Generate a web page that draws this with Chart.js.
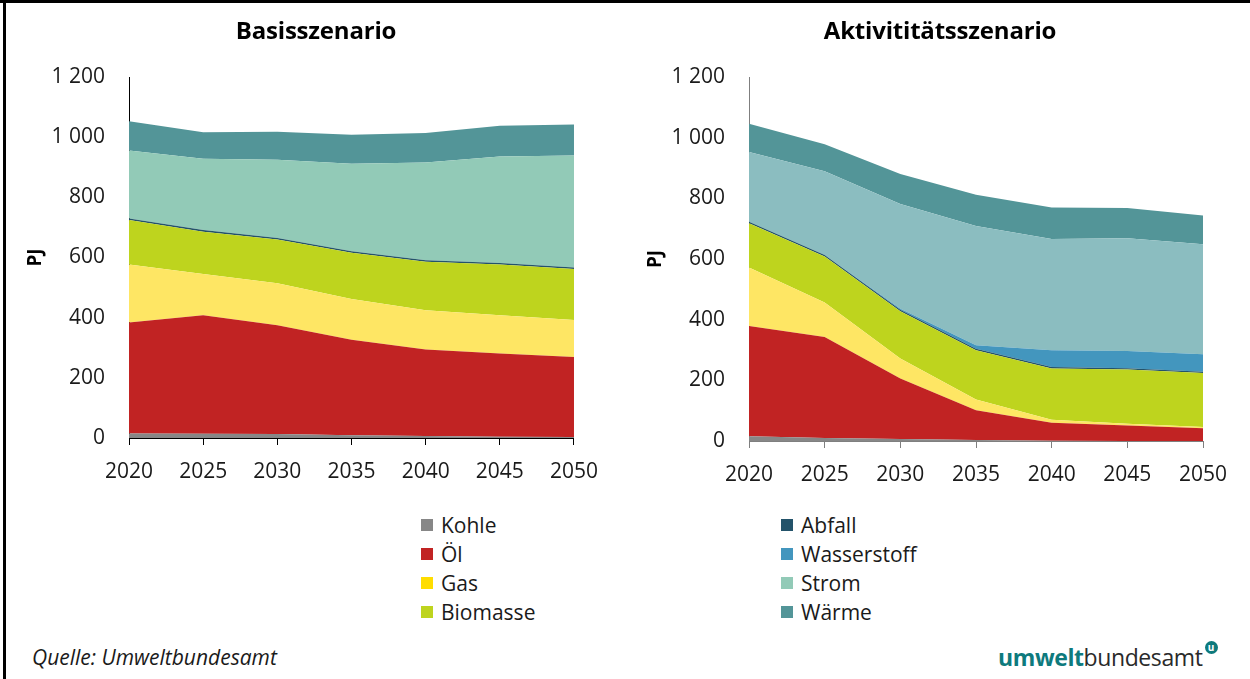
<!DOCTYPE html>
<html lang="de">
<head>
<meta charset="utf-8">
<title>Energieeinsatz Szenarien</title>
<script src="https://cdn.jsdelivr.net/npm/chart.js@4.4.1/dist/chart.umd.min.js"></script>
<style>
    html, body {
        margin: 0;
        padding: 0;
        background: #ffffff;
        font-family: "Open Sans", sans-serif;
    }
    #page {
        position: relative;
        width: 1250px;
        height: 679px;
        overflow: hidden;
        background: #ffffff;
    }
    #frameTop {
        position: absolute;
        left: 0; top: 0;
        width: 1250px; height: 3px;
        background: #000;
    }
    #frameLeft {
        position: absolute;
        left: 3px; top: 0;
        width: 3px; height: 679px;
        background: #000;
    }
    .chart-box {
        position: absolute;
        top: 0;
        height: 500px;
    }
    .chart-title {
        position: absolute;
        top: 15px;
        width: 400px;
        margin-left: -200px;
        text-align: center;
        font-size: 24px;
        font-weight: 700;
        line-height: 30px;
        color: #000;
        letter-spacing: -0.2px;
    }
    #legend {
        position: absolute;
        left: 0; top: 0;
    }
    .legend-item {
        position: absolute;
        height: 24px;
        line-height: 24px;
        font-size: 21px;
        color: #1a1a1a;
        white-space: nowrap;
    }
    .legend-item i {
        position: absolute;
        left: 0; top: 6px;
        width: 12px; height: 12px;
    }
    .legend-item span {
        position: absolute;
        left: 20px; top: 0;
    }
    #source {
        position: absolute;
        left: 32px; top: 643px;
        font-size: 21px;
        font-style: italic;
        color: #1a1a1a;
    }
    #logo {
        position: absolute;
        left: 998px; top: 641px;
        font-size: 23px;
        color: #2a2a2a;
        letter-spacing: -0.4px;
    }
    #logo b { color: #0e7a7d; font-weight: 700; }
    #logo .badge {
        position: absolute;
        right: -15px; top: 0px;
        width: 13px; height: 13px;
        border-radius: 50%;
        background: #0e7a7d;
        color: #fff;
        font-size: 10px;
        line-height: 12px;
        text-align: center;
        font-weight: 700;
        letter-spacing: 0;
    }
</style>
</head>
<body>
<div id="page">
    <div id="frameTop"></div>
    <div id="frameLeft"></div>
    <div class="chart-box" style="left:20px;width:592px;"><canvas id="basisChart"></canvas></div>
    <div class="chart-box" style="left:630px;width:620px;"><canvas id="aktivChart"></canvas></div>
    <div class="chart-title" style="left:316px;">Basisszenario</div>
    <div class="chart-title" style="left:940px;">Aktivititätsszenario</div>
    <div id="legend"></div>
    <div id="source">Quelle: Umweltbundesamt</div>
    <div id="logo"><b>umwelt</b>bundesamt<span class="badge">u</span></div>
</div>

<script>
// Jahre und Reihen
const years = ['2020', '2025', '2030', '2035', '2040', '2045', '2050'];
const seriesNames = ['Kohle', 'Öl', 'Gas', 'Biomasse', 'Abfall', 'Wasserstoff', 'Strom', 'Wärme'];
const yTicks = [0, 200, 400, 600, 800, 1000, 1200];

// Basisszenario (PJ)
const basisKohle       = [15, 14, 13, 9, 7, 4, 3];
const basisOel         = [369, 394, 362, 318, 287, 277, 266];
const basisGas         = [193, 137, 139, 135, 131, 127, 123];
const basisBiomasse    = [148, 141, 146, 154, 161, 169, 170];
const basisAbfall      = [5, 5, 5, 5, 5, 5, 5];
const basisWasserstoff = [0, 0, 0, 0, 0, 0, 0];
const basisStrom       = [226, 237, 260, 291, 325, 354, 372];
const basisWaerme      = [97, 88, 93, 96, 98, 102, 103];

// Aktivitätsszenario (PJ)
const aktivKohle       = [16, 10, 7, 3, 1, 0, 0];
const aktivOel         = [363, 333, 199, 98, 59, 51, 42];
const aktivGas         = [193, 114, 66, 36, 10, 6, 4];
const aktivBiomasse    = [146, 151, 156, 162, 169, 179, 178];
const aktivAbfall      = [5, 5, 5, 5, 5, 4, 4];
const aktivWasserstoff = [0, 0, 3, 12, 55, 57, 58];
const aktivStrom       = [230, 276, 345, 393, 367, 371, 363];
const aktivWaerme      = [93, 89, 99, 103, 104, 100, 94];

// Farben
const basisColors  = ['#878787', '#c12323', '#fee664', '#bed41e', '#23536a', '#4396be', '#92cab7', '#539598'];
const aktivColors  = ['#878787', '#c12323', '#fee664', '#bed41e', '#23536a', '#4396be', '#8bbdc0', '#539598'];
const legendColors = ['#878787', '#c12323', '#ffdd00', '#bed41e', '#23536a', '#4396be', '#92cab7', '#539598'];

const FONT = '"Open Sans", sans-serif';

function formatThousands(value) {
    return String(value).replace(/\B(?=(\d{3})+(?!\d))/g, ' ');
}

function buildDatasets(seriesValues, colors) {
    return seriesValues.map((values, i) => ({
        label: seriesNames[i],
        data: values,
        backgroundColor: colors[i],
        borderColor: colors[i],
        borderWidth: 0,
        pointRadius: 0,
        pointHoverRadius: 0,
        tension: 0,
        fill: i === 0 ? 'origin' : '-1'
    }));
}

function createAreaChart(canvasId, seriesValues, colors, cfg) {
    const ctx = document.getElementById(canvasId);
    return new Chart(ctx, {
        type: 'line',
        data: {
            labels: years,
            datasets: buildDatasets(seriesValues, colors)
        },
        options: {
            responsive: true,
            maintainAspectRatio: false,
            animation: false,
            layout: {
                padding: { left: 0, right: cfg.padRight, top: 77, bottom: 0 }
            },
            plugins: {
                legend: { display: false },
                tooltip: { enabled: false },
                title: { display: false }
            },
            scales: {
                x: {
                    grid: {
                        display: true,
                        drawOnChartArea: false,
                        drawTicks: true,
                        tickLength: 7,
                        color: cfg.axisColor
                    },
                    border: { display: true, color: cfg.axisColor, width: 1 },
                    ticks: {
                        color: '#1a1a1a',
                        font: { family: FONT, size: 21 },
                        padding: 14,
                        maxRotation: 0,
                        autoSkip: false
                    },
                    afterFit: scale => { scale.height = cfg.xHeight; }
                },
                y: {
                    stacked: true,
                    min: 0,
                    max: 1200,
                    afterBuildTicks: scale => {
                        scale.ticks = yTicks.map(v => ({ value: v }));
                    },
                    grid: { display: false, drawTicks: false },
                    border: { display: true, color: cfg.axisColor, width: 1 },
                    ticks: {
                        color: '#1a1a1a',
                        font: { family: FONT, size: 21 },
                        padding: cfg.tickPad,
                        callback: value => formatThousands(value)
                    },
                    title: {
                        display: true,
                        text: 'PJ',
                        color: '#000',
                        font: { family: FONT, size: 19, weight: 'bold' },
                        padding: { top: cfg.titlePad, bottom: 0 }
                    },
                    afterFit: scale => { scale.width = cfg.yWidth; }
                }
            }
        }
    });
}

function buildLegend() {
    const container = document.getElementById('legend');
    const columnX = [421, 781];
    const rowY = [513, 542, 571, 600];
    container.innerHTML = seriesNames.map((name, i) => {
        const col = Math.floor(i / 4);
        const row = i % 4;
        return `
            <div class="legend-item" style="left:${columnX[col]}px;top:${rowY[row]}px;">
                <i style="background:${legendColors[i]}"></i>
                <span>${name}</span>
            </div>
        `;
    }).join('');
}

document.addEventListener('DOMContentLoaded', function() {
    createAreaChart('basisChart',
        [basisKohle, basisOel, basisGas, basisBiomasse, basisAbfall, basisWasserstoff, basisStrom, basisWaerme],
        basisColors,
        { padRight: 31, yWidth: 109, xHeight: 62, tickPad: 24, titlePad: 4, axisColor: '#000' });

    createAreaChart('aktivChart',
        [aktivKohle, aktivOel, aktivGas, aktivBiomasse, aktivAbfall, aktivWasserstoff, aktivStrom, aktivWaerme],
        aktivColors,
        { padRight: 47, yWidth: 119, xHeight: 59, tickPad: 24, titlePad: 14, axisColor: '#7f7f7f' });

    buildLegend();
});
</script>
</body>
</html>
